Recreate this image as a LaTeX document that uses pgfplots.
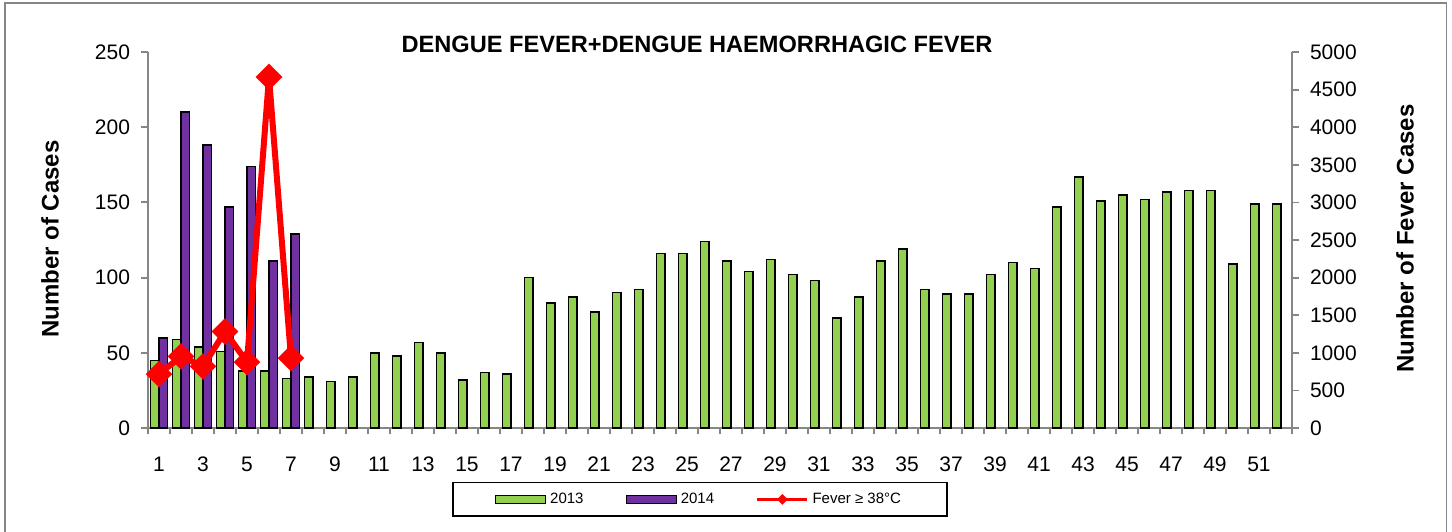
\documentclass[border=0pt]{standalone}
\usepackage{pgfplots}
\pgfplotsset{compat=1.18}
\usepackage{fontspec}
\setmainfont{Liberation Sans}
\definecolor{barG}{RGB}{146,208,80}
\definecolor{barP}{RGB}{112,48,160}
\definecolor{axG}{RGB}{134,134,134}

\pgfplotstableread{
wk v
1 45
2 59
3 54
4 51
5 38
6 38
7 33
8 34
9 31
10 34
11 50
12 48
13 57
14 50
15 32
16 37
17 36
18 100
19 83
20 87
21 77
22 90
23 92
24 116
25 116
26 124
27 111
28 104
29 112
30 102
31 98
32 73
33 87
34 111
35 119
36 92
37 89
38 89
39 102
40 110
41 106
42 147
43 167
44 151
45 155
46 152
47 157
48 158
49 158
50 109
51 149
52 149
}\dataA
\pgfplotstableread{
wk v
1 60
2 210
3 188
4 147
5 174
6 111
7 129
}\dataB
\pgfplotstableread{
wk v
1 716
2 952
3 819
4 1283
5 876
6 4668
7 929
}\dataF

\begin{document}
\begin{tikzpicture}[x=1pt,y=1pt]
\useasboundingbox (0,0) rectangle (726,265.5);
\draw[axG, line width=0.9pt] (2.4,-5) rectangle (723.2,263.8);

\pgfplotsset{
  common/.style={
    scale only axis, width=572pt, height=188pt,
    at={(74pt,51.5pt)}, anchor=south west,
    xmin=0.5, xmax=52.5,
    /pgf/number format/assume math mode=true,
    /pgf/number format/1000 sep={},
    tick label style={font=\fontsize{10.5}{12}\selectfont},
    axis line style={axG, line width=0.9pt},
    tick style={axG, line width=0.9pt},
    tick align=outside,
    major tick length=3.5pt,
    minor tick length=3pt,
  }
}

\begin{axis}[common,
  axis x line*=bottom, axis y line*=left,
  ymin=0, ymax=250, ytick={0,50,...,250},
  xtick={1,3,...,51},
  minor xtick={0.5,1.5,...,52.5},
  major x tick style={draw=none},
  xticklabel style={yshift=-7.5pt},
  yticklabel style={xshift=-2pt},
  ybar=0pt, bar width=4.3pt,
  legend columns=3,
  legend style={at={(0.4825,-0.19)}, anchor=center,
    draw=black, line width=0.7pt,
    font=\fontsize{7.5}{9}\selectfont,
    inner xsep=21pt, inner ysep=3pt,
    /tikz/every even column/.append style={column sep=19pt}},
  legend image code/.code={},
]
\addlegendimage{legend image code/.code={\draw[fill=barG, draw=black, line width=0.6pt] (0pt,-2pt) rectangle (25pt,2pt);}}
\addlegendentry{2013}
\addlegendimage{legend image code/.code={\draw[fill=barP, draw=black, line width=0.6pt] (0pt,-2pt) rectangle (25pt,2pt);}}
\addlegendentry{2014}
\addlegendimage{legend image code/.code={\draw[red, line width=1.2pt] (0pt,0pt) -- (25pt,0pt); \fill[red] (12.5pt,0pt) +(0,2.2pt) -- +(2.2pt,0) -- +(0,-2.2pt) -- +(-2.2pt,0) -- cycle;}}
\addlegendentry{Fever ≥ 38°C}
\addplot[fill=barG, draw=black, line width=0.75pt, bar shift=-2.15pt, forget plot] table[x=wk,y=v]{\dataA};
\addplot[fill=barP, draw=black, line width=0.75pt, bar shift=2.15pt, forget plot] table[x=wk,y=v]{\dataB};
\end{axis}

\begin{axis}[common,
  axis x line=none, axis y line*=right,
  ymin=0, ymax=5000, ytick={0,500,...,5000},
  yticklabel style={xshift=2pt},
]
\addplot[red, line width=3pt, mark=square*, mark size=3.2pt, mark options={solid, fill=red, rotate=45}] table[x=wk,y=v]{\dataF};
\end{axis}

\node[font=\fontsize{11.8}{13}\selectfont\bfseries] at (348.5,243.5) {DENGUE FEVER+DENGUE HAEMORRHAGIC FEVER};
\node[font=\fontsize{12}{14}\selectfont\bfseries, rotate=90] at (25,146) {Number of Cases};
\node[font=\fontsize{12}{14}\selectfont\bfseries, rotate=90] at (702.5,146.3) {Number of Fever Cases};
\end{tikzpicture}
\end{document}
